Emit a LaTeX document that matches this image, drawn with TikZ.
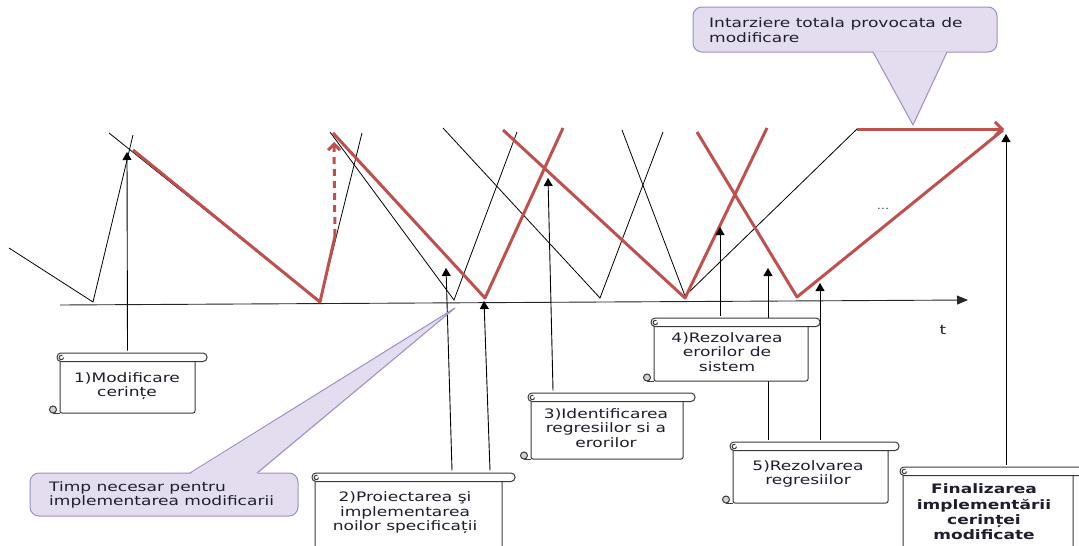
\documentclass[tikz,border=0pt]{standalone}
\usepackage{fontspec}
\setmainfont{DejaVu Sans}[FakeStretch=1.31]
\usetikzlibrary{arrows.meta,fit}
\definecolor{redl}{HTML}{C0504D}
\definecolor{callfill}{HTML}{E4DDF0}
\definecolor{calldraw}{HTML}{9E8CC6}
\definecolor{txt}{HTML}{1E1E2E}
\definecolor{boxline}{HTML}{3A3A3A}
\newcommand\scrollbox[6]{%
  \node[scrollbody, fit={(#2+3,#3+6) (#5,#6)}] (#1) {};
  \draw[scrl, fill=white, rounded corners=4pt] (#2,#3) rectangle (#4,#3+8.5);
  \draw[scrl] (#2+6.5,#3+4.5) arc[start angle=0, end angle=300, radius=2.2];
  \draw[scrl] (#2-4,#6) -- (#2+3,#6);
  \draw[scrl, fill=gray!35] (#2-4,#6-3.5) circle[radius=3.5];
}
\begin{document}
\begin{tikzpicture}[x=1pt,y=-1pt,
  blk/.style={line width=0.8pt, black},
  redthick/.style={line width=3pt, redl, line join=round},
  arr/.style={line width=0.9pt, -{Triangle[width=9pt,length=8pt]}},
  scrl/.style={draw=boxline, line width=1pt},
  scrollbody/.style={draw=boxline, line width=1pt, fill=white, inner sep=0pt, rounded corners=2pt},
  boxtext/.style={font=\fontsize{13}{14.5}\selectfont, align=center, text=txt, inner sep=0pt},
  callbox/.style={draw=calldraw, fill=callfill, line width=1pt, rounded corners=9pt, inner sep=0pt},
  calltext/.style={font=\fontsize{13}{14.5}\selectfont, align=left, text=txt, inner sep=0pt}
]
\useasboundingbox (0,0) rectangle (1079,546);

% time axis
\coordinate (ax0) at (60,305);
\coordinate (ax1) at (968,300);
\draw[line width=0.9pt, black!85, -{Triangle[width=9pt,length=11pt]}] (ax0) -- (ax1);
\node[font=\fontsize{13}{14}\selectfont, text=txt] (tl) at (943,330) {t};

% thin black zigzags
\draw[blk] (9,248) -- (93,302) -- (133,135);
\draw[blk] (109,133) -- (320,302) -- (362,133);
\draw[blk] (330,132) -- (454,300) -- (517,132);
\draw[blk] (443,128) -- (600,298) -- (663,132);
\draw[blk] (622,130) -- (685,296) -- (857,129);

% red path
\draw[redthick] (133,150) -- (320,302) -- (335,236);
\coordinate (rd0) at (335,236);
\coordinate (rd1) at (334,142);
\draw[redl, line width=3pt, dash pattern=on 7pt off 5pt, -{Straight Barb[length=6pt,width=12pt,line width=3pt]}] (rd0) -- (rd1);
\draw[redthick] (333,133) -- (485,298) -- (563,128);
\draw[redthick] (503,130) -- (685,298) -- (767,128);
\draw[redthick] (697,132) -- (797,297) -- (1003,130);
\coordinate (rh0) at (857,129);
\coordinate (rh1) at (1004,129);
\draw[redl, line width=3pt, -{Straight Barb[length=7pt,width=14pt,line width=3pt]}] (rh0) -- (rh1);
\node[font=\fontsize{10}{12}\selectfont, text=black!70] (dots) at (883,209) {...};

% arrow tips
\coordinate (p1) at (127,152);
\coordinate (p2a) at (446,268);
\coordinate (p2b) at (484,301);
\coordinate (p3) at (548,178);
\coordinate (p4) at (720,227);
\coordinate (p5a) at (768,268);
\coordinate (p5b) at (820,283);
\coordinate (p6) at (1006,134);

% boxes (bodies first as named nodes, for the connectors)
\scrollbox{b1}{57}{353}{207}{195}{413}
\scrollbox{b2}{312}{473}{515}{502}{560}
\scrollbox{b3}{528}{393}{695}{683}{459}
\scrollbox{b5}{730}{442}{899}{888}{503}
\scrollbox{b6}{900}{467}{1090}{1073}{560}

\draw[arr] ([yshift=8pt]b1.north) -- (p1);
\draw[arr] ([xshift=43.5pt,yshift=8pt]b2.north) -- (p2a);
\draw[arr] ([xshift=81.5pt,yshift=8pt]b2.north) -- (p2b);
\draw[arr] ([xshift=-54pt,yshift=8pt]b3.north) -- (p3);
\draw[arr] ([xshift=-42.5pt,yshift=8pt]b5.north) -- (p5a);
\draw[arr] ([xshift=9.5pt,yshift=8pt]b5.north) -- (p5b);
\draw[arr] ([xshift=18pt,yshift=8pt]b6.north) -- (p6);

\scrollbox{b4}{651}{318}{820}{808}{381}
\draw[arr] ([xshift=-11pt,yshift=8pt]b4.north) -- (p4);

\node[boxtext] (t1) at (127,386) {1)Modificare\\cerințe};
\node[boxtext] (t2) at (405,513) {2)Proiectarea şi\\implementarea\\noilor specificații};
\node[boxtext] (t3) at (606,428) {3)Identificarea\\regresiilor si a\\erorilor};
\node[boxtext] (t4) at (727,352) {4)Rezolvarea\\erorilor de\\sistem};
\node[boxtext] (t5) at (808,474) {5)Rezolvarea\\regresiilor};
\node[boxtext, font=\fontsize{13}{15.3}\selectfont\bfseries] (t6) at (984,512) {Finalizarea\\implementării\\cerinței\\modificate};

% callouts
\node[callbox, minimum width=268pt, minimum height=43pt] (c1) at (164,494.5) {};
\fill[callfill] (190,474.2) -- (455,308) -- (257,474.2) -- cycle;
\coordinate (c1tip) at (455,308);
\draw[calldraw, line width=1pt, line join=round] (190,473) -- (c1tip) -- (257,473);
\node[calltext, anchor=west] (c1t) at (49,495) {Timp necesar pentru\\implementarea modificarii};

\node[callbox, minimum width=304pt, minimum height=45pt] (c2) at (845,29.5) {};
\fill[callfill] (873,51.3) -- (913,125) -- (947,51.3) -- cycle;
\coordinate (c2tip) at (913,125);
\draw[calldraw, line width=1pt, line join=round] (873,52) -- (c2tip) -- (947,52);
\node[calltext, anchor=west] (c2t) at (709,30) {Intarziere totala provocata de\\modificare};
\end{tikzpicture}
\end{document}
